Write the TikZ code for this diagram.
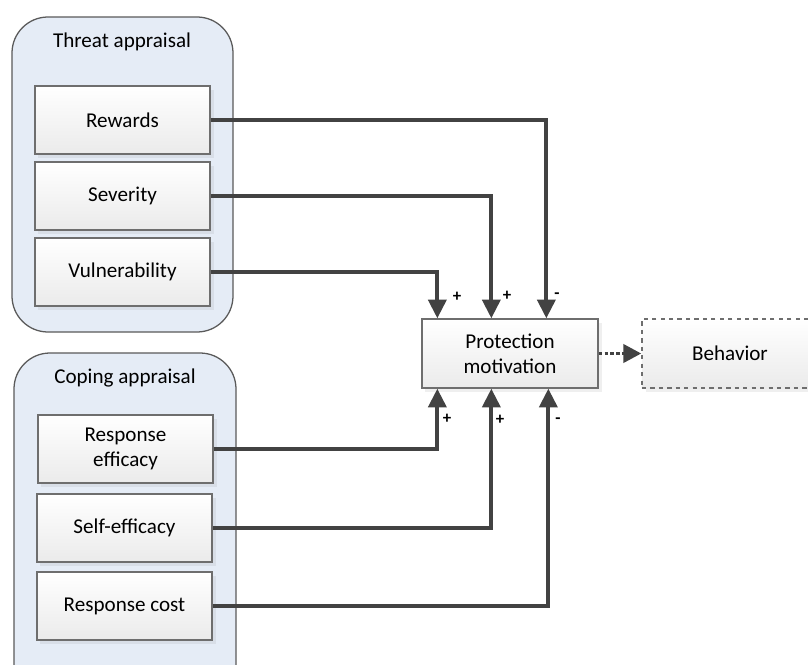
\documentclass[tikz,border=0pt]{standalone}
\usepackage{fontspec}
\setmainfont{Carlito}
\usetikzlibrary{arrows.meta,shadows,calc}

\definecolor{grpfill}{HTML}{E5ECF6}
\definecolor{grpline}{HTML}{5A5A5A}
\definecolor{boxline}{HTML}{6E6E6E}
\definecolor{arrcol}{HTML}{424242}

\tikzset{
  factor/.style={draw=boxline, line width=0.9pt, top color=white, bottom color=black!8,
    minimum width=4.375cm, minimum height=1.7cm, align=center,
    font=\fontsize{15}{18}\selectfont,
    drop shadow={opacity=0.12, shadow xshift=2.5pt, shadow yshift=-2.5pt}},
  group/.style={draw=grpline, line width=0.9pt, fill=grpfill, rounded corners=0.9cm},
  grouptitle/.style={font=\fontsize{15}{18}\selectfont},
  link/.style={draw=arrcol, line width=2.8pt, -{Triangle[length=0.47cm, width=0.45cm]}},
  sign/.style={font=\fontsize{12}{14}\selectfont\bfseries, inner sep=0pt}
}

\begin{document}
\begin{tikzpicture}[x=0.025cm, y=-0.025cm]
\clip (0,0) rectangle (808,664);
\fill[white] (0,0) rectangle (808,664);

% appraisal groups
\draw[group] (12,17) rectangle (233,332);
\node[grouptitle] (threat) at (122,42) {Threat appraisal};
\draw[group] (14,353) rectangle (236,700);
\node[grouptitle] (coping) at (125,378) {Coping appraisal};

% threat factors
\node[factor] (rew) at (122.5,120) {Rewards};
\node[factor] (sev) at (122.5,196) {Severity};
\node[factor] (vul) at (122.5,272) {Vulnerability};

% coping factors
\node[factor] (reff) at (125.5,449) {Response\\efficacy};
\node[factor] (seff) at (124.5,528) {Self-efficacy};
\node[factor] (rcost) at (124.5,606) {Response cost};

% outcome
\node[factor, minimum width=4.4cm, minimum height=1.725cm] (pm) at (510,353.5) {Protection\\motivation};
\node[factor, dashed, minimum width=4.8cm, minimum height=1.725cm] (beh) at (738,353.5) {};
\node[grouptitle] (behtxt) at (730,353) {Behavior};

% entry points on protection motivation
\path (pm.north west) ++(16,0) coordinate (t1) ++(54,0) coordinate (t2) ++(55,0) coordinate (t3);
\path (pm.south west) ++(16,0) coordinate (b1) ++(54,0) coordinate (b2) ++(57,0) coordinate (b3);

\draw[link] (rew.east) -| (t3);
\draw[link] (sev.east) -| (t2);
\draw[link] (vul.east) -| (t1);
\draw[link] (reff.east) -| (b1);
\draw[link] (seff.east) -| (b2);
\draw[link] (rcost.east) -| (b3);

\node[sign] (s1) at (457,297) {+};
\node[sign] (s2) at (507,296) {+};
\node[sign] (s3) at (557,296) {-};
\node[sign] (s4) at (447,419) {+};
\node[sign] (s5) at (500,420) {+};
\node[sign] (s6) at (558,421) {-};

\draw[draw=arrcol, line width=2.8pt, dash pattern=on 2.6pt off 1.6pt,
  -{Triangle[length=0.45cm, width=0.45cm]}] (pm.east) -- (beh.west);
\end{tikzpicture}
\end{document}
